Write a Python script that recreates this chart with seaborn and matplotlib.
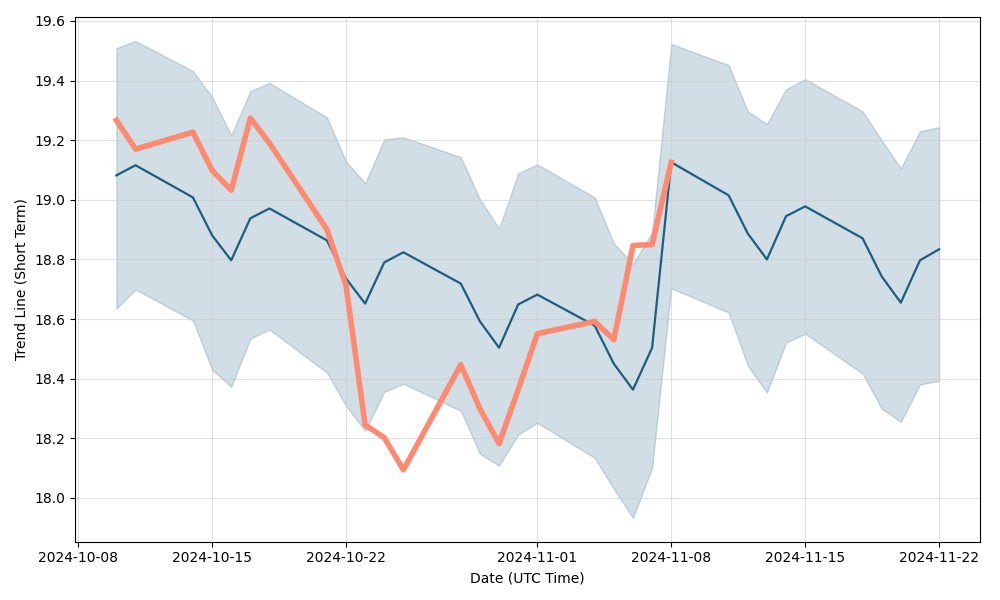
import matplotlib
matplotlib.use("Agg")
import matplotlib.pyplot as plt
import seaborn as sns
import pandas as pd
import numpy as np

dates = ["2024-10-10", "2024-10-11", "2024-10-14", "2024-10-15", "2024-10-16", "2024-10-17",
         "2024-10-18", "2024-10-21", "2024-10-22", "2024-10-23", "2024-10-24", "2024-10-25",
         "2024-10-28", "2024-10-29", "2024-10-30", "2024-10-31", "2024-11-01", "2024-11-04",
         "2024-11-05", "2024-11-06", "2024-11-07", "2024-11-08", "2024-11-11", "2024-11-12",
         "2024-11-13", "2024-11-14", "2024-11-15", "2024-11-18", "2024-11-19", "2024-11-20",
         "2024-11-21", "2024-11-22"]

trend = [19.082, 19.116, 19.008, 18.881, 18.797, 18.938, 18.971, 18.864, 18.736, 18.652,
         18.790, 18.824, 18.719, 18.592, 18.504, 18.649, 18.682, 18.578, 18.450, 18.363,
         18.504, 19.126, 19.015, 18.887, 18.800, 18.945, 18.978, 18.871, 18.743, 18.655,
         18.797, 18.834]

upper = [19.509, 19.533, 19.432, 19.345, 19.217, 19.365, 19.392, 19.277, 19.129, 19.055,
         19.203, 19.210, 19.143, 19.002, 18.904, 19.089, 19.119, 19.008, 18.854, 18.785,
         18.891, 19.523, 19.452, 19.297, 19.254, 19.371, 19.405, 19.297, 19.200, 19.106,
         19.230, 19.244]

lower = [18.635, 18.699, 18.595, 18.430, 18.373, 18.534, 18.565, 18.420, 18.309, 18.225,
         18.356, 18.383, 18.292, 18.148, 18.108, 18.212, 18.252, 18.134, 18.030, 17.933,
         18.101, 18.703, 18.622, 18.444, 18.353, 18.521, 18.551, 18.417, 18.299, 18.255,
         18.380, 18.393]

price_dates = dates[:22]
price = [19.267, 19.170, 19.227, 19.099, 19.032, 19.274, 19.190, 18.901, 18.713, 18.245,
         18.202, 18.094, 18.447, 18.299, 18.182, 18.363, 18.551, 18.592, 18.531, 18.847,
         18.850, 19.126]

df = pd.DataFrame({"date": pd.to_datetime(dates), "trend": trend,
                   "upper": upper, "lower": lower})
dp = pd.DataFrame({"date": pd.to_datetime(price_dates), "price": price})

fig, ax = plt.subplots(figsize=(10, 6), dpi=100)
band_color = "#1b5e7f"
ax.fill_between(df["date"], df["lower"], df["upper"], color=band_color, alpha=0.2)
sns.lineplot(data=df, x="date", y="trend", ax=ax, color=band_color, linewidth=1.6)
sns.lineplot(data=dp, x="date", y="price", ax=ax, color="#ff8a70", linewidth=4)

ax.grid(True, color="#cccccc", alpha=0.6, linewidth=0.8)
ax.set_xlabel("Date (UTC Time)")
ax.set_ylabel("Trend Line (Short Term)")
ax.set_yticks([18.0, 18.2, 18.4, 18.6, 18.8, 19.0, 19.2, 19.4, 19.6])
fig.tight_layout()
fig.savefig("out.png", dpi=100)
